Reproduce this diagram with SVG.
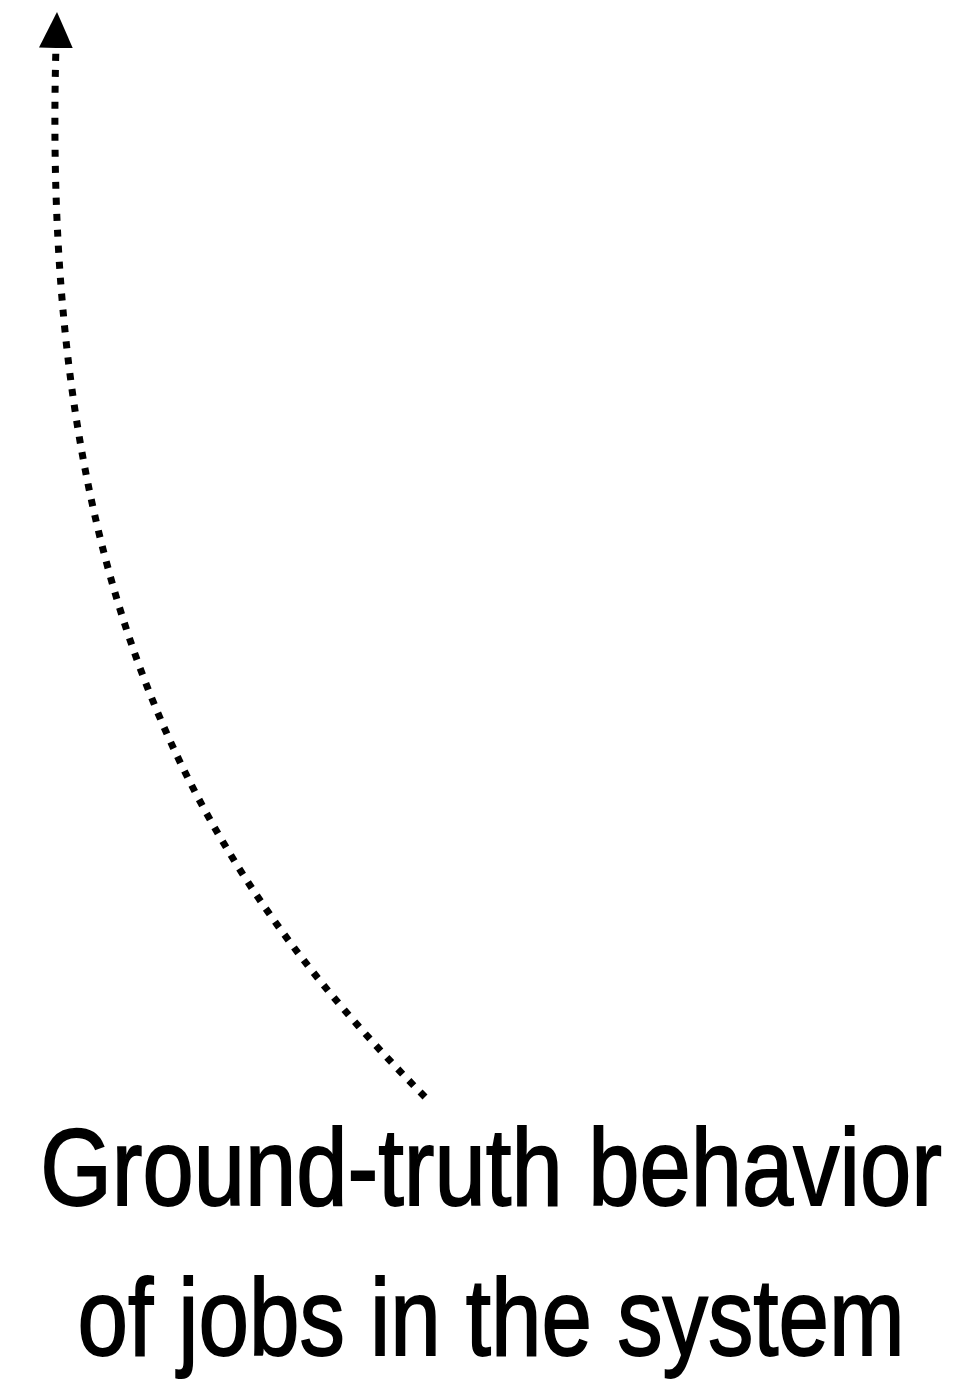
<svg xmlns="http://www.w3.org/2000/svg" width="958" height="1387" viewBox="0 0 958 1387">
  <style>
    .lbl { font-family: "Liberation Sans", Arial, sans-serif; font-size: 110px; fill: #000; stroke: #000; stroke-width: 1.8; }
    .conn { fill: none; stroke: #000; stroke-width: 7; stroke-dasharray: 7 9; }
  </style>
  <defs>
    <marker id="arrow" markerUnits="userSpaceOnUse" markerWidth="40" markerHeight="40" refX="2" refY="17" orient="auto">
      <path d="M0,0 L36,17 L0,34 z" fill="#000"/>
    </marker>
  </defs>
  <rect width="958" height="1387" fill="#fff"/>
  <g id="connectors">
    <path class="conn" d="M425,1097 C200,870 40,600 56,46" marker-end="url(#arrow)"/>
  </g>
  <g id="label">
    <text class="lbl" transform="translate(491,1205) scale(0.838,1)" x="0" y="0" text-anchor="middle">Ground-truth behavior</text>
    <text class="lbl" transform="translate(491,1355) scale(0.825,1)" x="0" y="0" text-anchor="middle">of jobs in the system</text>
  </g>
</svg>
